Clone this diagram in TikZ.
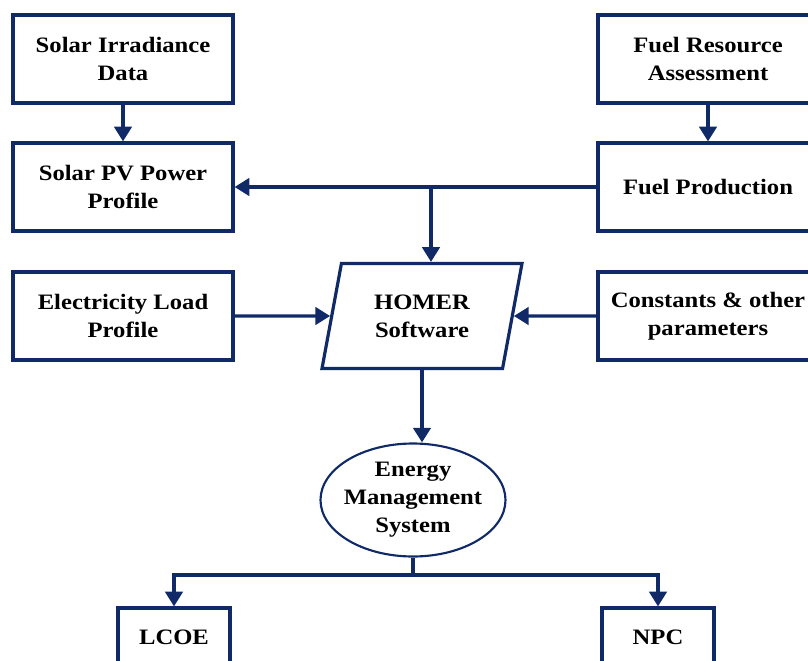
\documentclass[tikz,border=0pt]{standalone}
\usepackage{fontspec}
\setmainfont{Liberation Serif}[FakeStretch=1.12]
\usetikzlibrary{shapes.geometric,arrows.meta}
\definecolor{darkblue}{RGB}{16,42,104}

\begin{document}
\begin{tikzpicture}[x=0.75pt,y=-0.75pt,
  font=\fontsize{16.5}{21}\selectfont\bfseries,
  box/.style={draw=darkblue,line width=2.4pt,minimum width=165pt,minimum height=66pt,align=center,inner sep=2pt},
  smallbox/.style={box,minimum width=84pt,minimum height=43.5pt},
  line/.style={draw=darkblue,line width=2.4pt},
  arr/.style={line,-{Triangle[width=13pt,length=11pt]}}]
\useasboundingbox (0,0) rectangle (808,661);
\clip (0,0) rectangle (808,661);

\node[box] (irr) at (123,59) {Solar Irradiance\\Data};
\node[box] (pv) at (123,187) {Solar PV Power\\Profile};
\node[box] (load) at (123,316) {Electricity Load\\Profile};
\node[box] (fuelres) at (708,59) {Fuel Resource\\Assessment};
\node[box] (fuelprod) at (708,187) {Fuel Production};
\node[box] (const) at (708,316) {Constants \& other\\parameters};
\node[draw=darkblue,line width=2.4pt,trapezium,trapezium left angle=68,trapezium right angle=112,
  trapezium stretches body,minimum width=150pt,minimum height=78.75pt,align=center,inner sep=2pt]
  (homer) at (422,316) {HOMER\\Software};
\node[draw=darkblue,line width=1.6pt,ellipse,minimum width=138.75pt,minimum height=84.75pt,
  align=center,inner sep=-5pt] (ems) at (413,500) {Energy\\Management\\System};
\node[smallbox] (lcoe) at (174,637) {LCOE};
\node[smallbox] (npc) at (658,637) {NPC};

\coordinate (split) at (431,187);
\coordinate (fork) at (413,575);

\draw[arr] (irr) -- (pv);
\draw[arr] (fuelres) -- (fuelprod);
\draw[arr] (fuelprod.west) -- (pv.east);
\draw[arr] (split) -- (split |- homer.north);
\draw[arr] (load.east) -- (homer.west);
\draw[arr] (const.west) -- (homer.east);
\draw[arr,line width=3.3pt] (homer.south) -- (homer.south |- ems.north);
\draw[line] (ems.south) -- (fork);
\draw[arr] (fork) -| (lcoe.north);
\draw[arr] (fork) -| (npc.north);
\end{tikzpicture}
\end{document}
